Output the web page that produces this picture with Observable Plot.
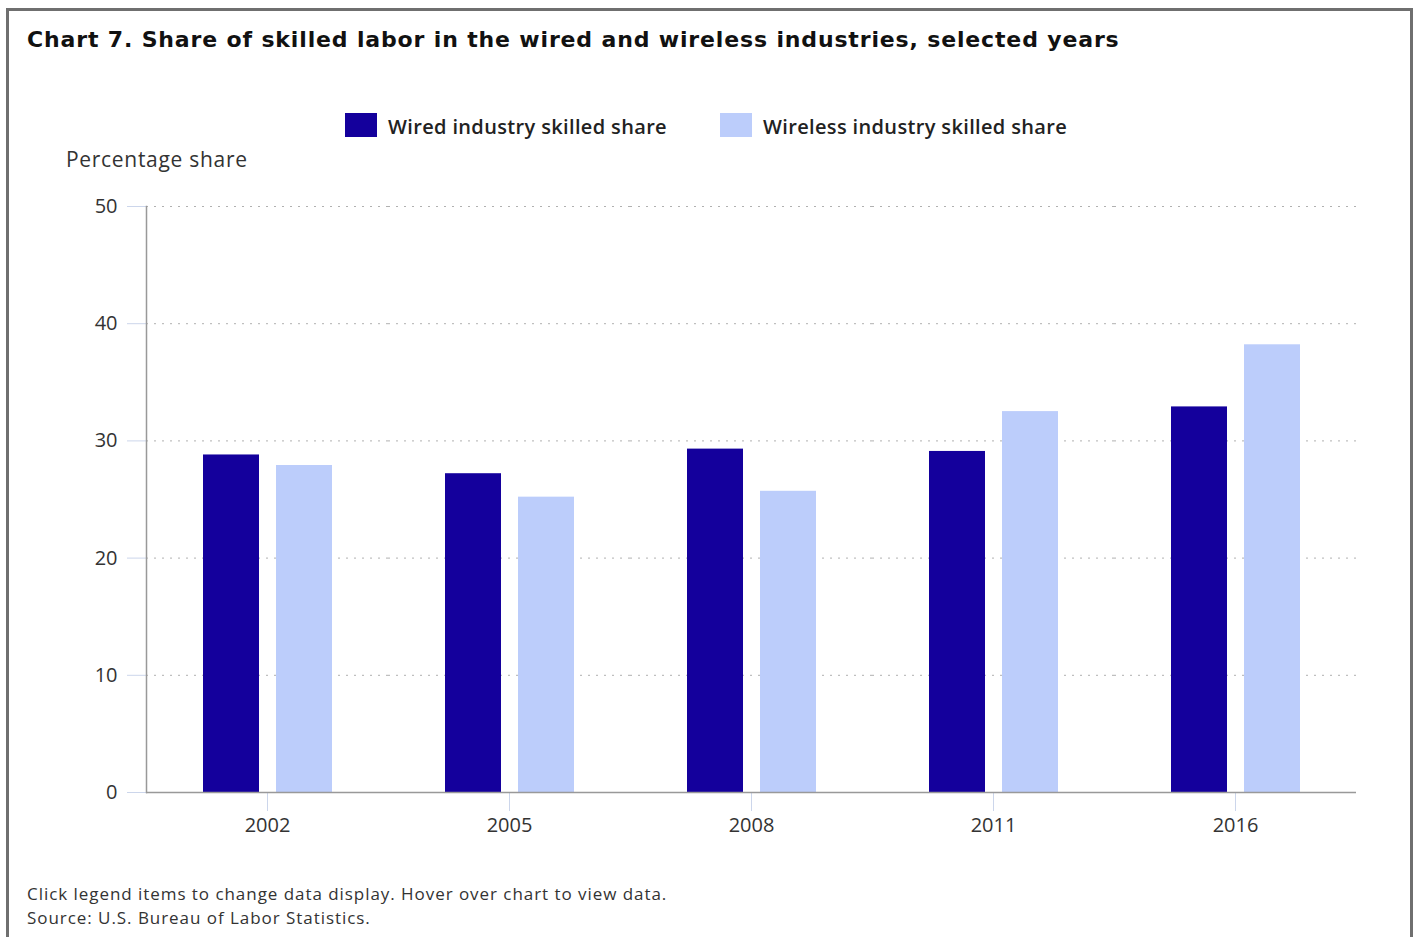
<!DOCTYPE html>
<html>
<head>
<meta charset="utf-8">
<script src="https://cdn.jsdelivr.net/npm/d3@7"></script>
<script src="https://cdn.jsdelivr.net/npm/@observablehq/plot@0.6"></script>
<style>
  html, body { margin: 0; padding: 0; background: #fff; width: 1417px; height: 937px; overflow: hidden; }
  .frame { position: absolute; left: 6px; top: 8px; width: 1401px; height: 940px; border: 3px solid #6f6f6f; box-sizing: content-box; }
  .t { position: absolute; white-space: nowrap; line-height: 1; }
  #title { left: 27px; top: 27px; font: bold 22px "DejaVu Sans", sans-serif; letter-spacing: 0.85px; color: #111; }
  .leg { font: 600 20px "Open Sans", sans-serif; letter-spacing: 0.35px; color: #222; }
  .sw { position: absolute; width: 32px; height: 24px; }
  #ylabel { left: 66px; top: 145px; font: 21px "Open Sans", sans-serif; letter-spacing: 0.7px; color: #333; }
  .foot { left: 27px; font: 17px "Open Sans", sans-serif; letter-spacing: 0.95px; color: #333; }
  #chart { position: absolute; left: 0; top: 190px; }
</style>
</head>
<body>
<div class="frame"></div>
<div id="title" class="t">Chart 7. Share of skilled labor in the wired and wireless industries, selected years</div>
<div id="legend"></div>
<div id="ylabel" class="t">Percentage share</div>
<div id="chart"></div>
<div class="t foot" style="top:882px">Click legend items to change data display. Hover over chart to view data.</div>
<div class="t foot" style="top:906px">Source: U.S. Bureau of Labor Statistics.</div>
<script>
const years = ["2002", "2005", "2008", "2011", "2016"];
const series = ["Wired industry skilled share", "Wireless industry skilled share"];
const wired = [28.8, 27.2, 29.3, 29.1, 32.9];
const wireless = [27.9, 25.2, 25.7, 32.5, 38.2];
const colors = ["#14009c", "#bccdfb"];
const yTicks = [0, 10, 20, 30, 40, 50];

const rows = [];
years.forEach((yr, i) => {
  rows.push({year: yr, series: series[0], value: wired[i]});
  rows.push({year: yr, series: series[1], value: wireless[i]});
});

// legend (HTML)
const legend = document.getElementById("legend");
const legPos = [{sw: 345, tx: 388}, {sw: 720, tx: 763}];
series.forEach((s, i) => {
  const sw = document.createElement("div");
  sw.className = "sw";
  sw.style.left = legPos[i].sw + "px"; sw.style.top = "113px"; sw.style.background = colors[i];
  legend.appendChild(sw);
  const tx = document.createElement("div");
  tx.className = "t leg";
  tx.style.left = legPos[i].tx + "px"; tx.style.top = "113px";
  tx.textContent = s;
  legend.appendChild(tx);
});

const chart = Plot.plot({
  width: 1417,
  height: 680,
  marginLeft: 146,
  marginRight: 61,
  marginTop: 16,
  marginBottom: 78,
  style: {fontSize: "20px", fontFamily: "'Open Sans', sans-serif", color: "#333", background: "transparent", overflow: "visible"},
  facet: {data: rows, x: "year"},
  fx: {domain: years, padding: 0, label: null},
  x: {domain: series, axis: null, paddingInner: 0.233, paddingOuter: 0.774},
  y: {domain: [0, 50], label: null},
  color: {domain: series, range: colors},
  marks: [
    Plot.ruleY(yTicks.slice(1), {stroke: "#b0b0b0", strokeDasharray: "2,6"}),
    Plot.barY(rows, {x: "series", y: "value", fill: "series"}),
    Plot.axisY({ticks: yTicks, tickSize: 19, tickPadding: 10, stroke: "#ccd6eb", strokeOpacity: 1, label: null}),
    Plot.axisFx({anchor: "bottom", tickSize: 19, tickPadding: 6, stroke: "#ccd6eb", strokeOpacity: 1, label: null}),
    Plot.frame({anchor: "left", facetAnchor: "left", stroke: "#999", strokeWidth: 1.5}),
    Plot.ruleY([0], {stroke: "#999", strokeWidth: 1.5})
  ]
});
document.getElementById("chart").appendChild(chart);
</script>
</body>
</html>
